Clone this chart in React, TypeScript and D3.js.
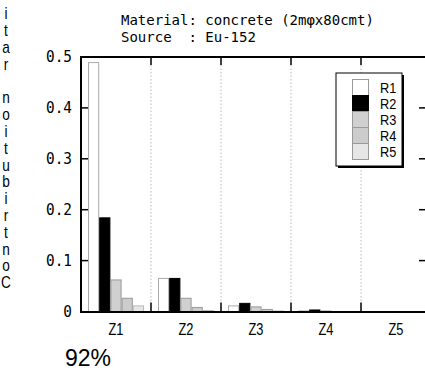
import React from "react";
import * as d3 from "d3";

const zones = ["Z1", "Z2", "Z3", "Z4", "Z5"];
const series = ["R1", "R2", "R3", "R4", "R5"];
const R1 = [0.489, 0.065, 0.011, 0.001, 0.0];
const R2 = [0.184, 0.065, 0.016, 0.003, 0.0];
const R3 = [0.062, 0.026, 0.009, 0.001, 0.0];
const R4 = [0.026, 0.008, 0.004, 0.0005, 0.0];
const R5 = [0.011, 0.002, 0.001, 0.0, 0.0];
const yTicks = [0, 0.1, 0.2, 0.3, 0.4, 0.5];
const yTickLabels = ["0", "0.1", "0.2", "0.3", "0.4", "0.5"];
const titleLines = ["Material: concrete (2mφx80cmt)", "Source  : Eu-152"];
const yLabel = "itar noitubirtnoC";
const footer = "92%";

const values = [R1, R2, R3, R4, R5];
const fills = ["#ffffff", "#000000", "#d0d0d0", "#cccccc", "#e6e6e6"];
const strokes = ["#aaaaaa", "#000000", "#999999", "#999999", "#bbbbbb"];

function Cond({ x, y, s = 0.8, anchor = "start", size, family, children }: any) {
  return (
    <g transform={`translate(${x},${y}) scale(${s},1)`}>
      <text x={0} y={0} textAnchor={anchor} dominantBaseline="central" fontFamily={family} fontSize={size}>
        {children}
      </text>
    </g>
  );
}

export default function App() {
  const W = 425, H = 371;
  const left = 81, right = 431, top = 57, bottom = 311.5;
  const x = d3.scaleBand().domain(zones).range([left, right]).padding(0);
  const xi = d3.scaleBand().domain(series).range([7, x.bandwidth() - 7]).padding(0);
  const y = d3.scaleLinear().domain([0, 0.5]).range([bottom, top]);
  const seps = zones.slice(1).map((z) => x(z) as number);
  const mono = "'DejaVu Sans Mono', monospace";
  const sans = "'Liberation Sans', Arial, sans-serif";

  return (
    <svg width={W} height={H} style={{ position: "absolute", left: 0, top: 0, background: "#fff" }}>
      {titleLines.map((t, i) => (
        <text key={i} x={121} y={25 + i * 17} fontFamily={mono} fontSize={14} style={{ whiteSpace: "pre" }}>
          {t}
        </text>
      ))}
      {yLabel.split("").map((c, i) => (
        <Cond key={i} x={6} y={14 + i * 16.8} anchor="middle" size={16} family={sans} s={0.85}>
          {c}
        </Cond>
      ))}
      {/* dotted separators */}
      {seps.map((sx, i) => (
        <line key={i} x1={sx} x2={sx} y1={top + 8} y2={bottom - 8} stroke="#bbb" strokeWidth={1} strokeDasharray="1.5,2" />
      ))}
      {/* bars */}
      {zones.map((z, zi) => (
        <g key={z} transform={`translate(${x(z)},0)`}>
          {series.map((s, si) => {
            const v = values[si][zi];
            const h = bottom - y(v);
            if (h < 0.3) return null;
            return (
              <rect key={s} x={(xi(s) as number) + 0.5} y={y(v)} width={xi.bandwidth() - 1} height={h}
                fill={fills[si]} stroke={strokes[si]} strokeWidth={1} />
            );
          })}
        </g>
      ))}
      {/* frame */}
      <line x1={left} x2={left} y1={top} y2={bottom + 1} stroke="#000" strokeWidth={2} />
      <line x1={left - 1} x2={W} y1={top} y2={top} stroke="#000" strokeWidth={2} />
      <line x1={left - 1} x2={W} y1={bottom + 0.5} y2={bottom + 0.5} stroke="#000" strokeWidth={2} />
      {/* y ticks */}
      {yTicks.map((t, i) => (
        <g key={i}>
          {t > 0 && t < 0.5 && (
            <>
              <line x1={left} x2={left + 7} y1={y(t)} y2={y(t)} stroke="#000" strokeWidth={1.5} />
              <line x1={W - 6} x2={W} y1={y(t)} y2={y(t)} stroke="#000" strokeWidth={1.5} />
            </>
          )}
          <Cond x={72} y={y(t)} anchor="end" size={16} family={mono} s={0.9}>
            {yTickLabels[i]}
          </Cond>
        </g>
      ))}
      {/* x separators ticks */}
      {seps.map((sx, i) => (
        <g key={i}>
          <line x1={sx} x2={sx} y1={top} y2={top + 8} stroke="#000" strokeWidth={1.5} />
          <line x1={sx} x2={sx} y1={bottom} y2={bottom - 9} stroke="#000" strokeWidth={1.5} />
        </g>
      ))}
      {zones.map((z) => (
        <Cond key={z} x={(x(z) as number) + x.bandwidth() / 2} y={329} anchor="middle" size={16} family={sans} s={0.8}>
          {z}
        </Cond>
      ))}
      {/* legend */}
      <g>
        <rect x={338} y={75} width={66} height={93} fill="#000" />
        <rect x={336} y={73} width={66} height={93} fill="#fff" stroke="#000" strokeWidth={1} />
        {series.map((s, i) => (
          <g key={s}>
            <rect x={352.5} y={79.5 + i * 16} width={16} height={16} fill={fills[i]} stroke={i === 1 ? "#000" : "#999"} strokeWidth={1} />
            <Cond x={380} y={87.5 + i * 16} size={15} family={sans} s={0.85}>
              {s}
            </Cond>
          </g>
        ))}
      </g>
      <text x={65} y={366} fontFamily={sans} fontSize={23}>{footer}</text>
    </svg>
  );
}
